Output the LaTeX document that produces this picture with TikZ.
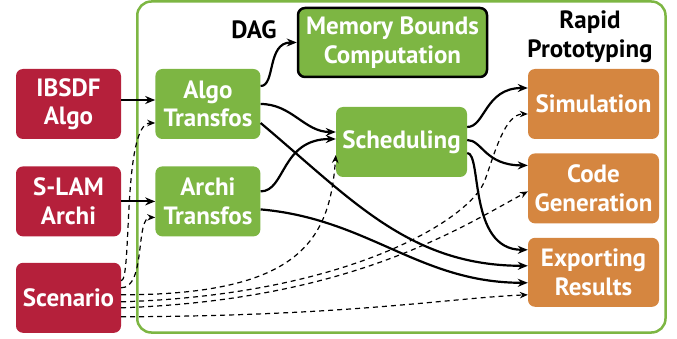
\documentclass[tikz,border=0pt]{standalone}
\usepackage{fontspec}
\setsansfont{PT Sans}
\usepackage{xcolor}
\usetikzlibrary{arrows.meta, positioning}
\definecolor{srcred}{RGB}{181,32,59}
\definecolor{tfgreen}{RGB}{125,182,67}
\definecolor{protoorange}{RGB}{213,134,64}

\begin{document}
\begin{tikzpicture}[x=1pt, y=-1pt, font=\sffamily\bfseries\fontsize{25}{28.5}\selectfont,
  box/.style={rounded corners=7pt, align=center, text=white, minimum height=70pt, inner sep=1pt},
  src/.style={box, fill=srcred, minimum width=105pt},
  tf/.style={box, fill=tfgreen, minimum width=105pt},
  proto/.style={box, fill=protoorange, minimum width=131pt},
  a/.style={-{Stealth[length=10pt,width=8pt]}, line width=2.2pt},
  da/.style={-{Stealth[length=8pt,width=6.5pt]}, line width=1.2pt, dash pattern=on 5pt off 4pt}]
\useasboundingbox (0,0) rectangle (677,339);
% frame round the tool flow
\draw[tfgreen, line width=2.5pt, rounded corners=14pt] (137.25,1.5) rectangle (665.5,332.5);

\node[src] (ibsdf) at (68.5,104) {IBSDF\\Algo};
\node[src, below=27pt of ibsdf] (slam) {S-LAM\\Archi};
\node[src, below=26pt of slam] (scen) {Scenario};
\node[tf, right=34pt of ibsdf] (algo) {Algo\\Transfos};
\node[tf, right=34pt of slam] (archi) {Archi\\Transfos};
\node[tf, draw=black, line width=2.5pt, minimum width=189pt, minimum height=69pt] (mem) at (392.5,42.5) {Memory Bounds\\Computation};
\node[tf, minimum width=131pt] (sched) at (401.5,142) {Scheduling};
\node[proto] (sim) at (593.5,104) {Simulation};
\node[proto, below=14pt of sim] (code) {Code\\Generation};
\node[proto, below=14pt of code, minimum height=69pt] (exp) {Exporting\\Results};
\node (dag) at (254,30) {DAG};
\node[align=center] (rapid) at (590,37) {Rapid\\Prototyping};

% inputs
\draw[a] ([yshift=4pt]ibsdf.east) -- ([yshift=4pt]algo.west);
\draw[a] (slam) -- (archi);
% transformations
\draw[a] ([yshift=18pt]algo.east) .. controls +(15,0) and +(-30,0) .. (mem.west);
\draw[a] (algo.east) to[out=0, in=180] ([yshift=10pt]sched.west);
\draw[a] ([yshift=-19pt]algo.east) to[out=-40, in=180] ([yshift=6.5pt]exp.west);
\draw[a] ([yshift=10pt]archi.east) .. controls +(25,0) and +(-55,0) .. ([yshift=3pt]sched.west);
\draw[a] ([yshift=-8pt]archi.east) to[out=-5, in=180] ([yshift=-10.5pt]exp.west);
% scheduling outputs
\draw[a] ([yshift=15pt]sched.east) .. controls +(18,0) and +(-43,0) .. ([yshift=16pt]sim.west);
\draw[a] ([yshift=2pt]sched.east) .. controls +(15,0) and +(-43,0) .. ([yshift=23pt]code.west);
\draw[a] ([yshift=-11pt]sched.east) .. controls +(15,0) and +(-60,0) .. ([yshift=22.5pt]exp.west);
% scenario
\draw[da] ([yshift=17pt]scen.east) .. controls +(11,0) and +(-33,0) .. ([yshift=-19pt]algo.west);
\draw[da] ([yshift=10pt]scen.east) .. controls +(25,0) and +(-20,0) .. ([yshift=-16pt]archi.west);
\draw[da] ([yshift=3pt]scen.east) .. controls +(179,0) and +(-6,85) .. ([yshift=-13pt]sched.west);
\draw[da] ([yshift=-4pt]scen.east) .. controls (350,295) and (472,218) .. (485,180)
  .. controls (495,152) and (505,114) .. ([yshift=-10pt]sim.west);
\draw[da] ([yshift=-10pt]scen.east) .. controls (350,300) and (460,228) .. ([yshift=-3pt]code.west);
\draw[da] ([yshift=-19pt]scen.east) .. controls (350,316) and (450,298) .. ([yshift=-22.5pt]exp.west);
\end{tikzpicture}
\end{document}
